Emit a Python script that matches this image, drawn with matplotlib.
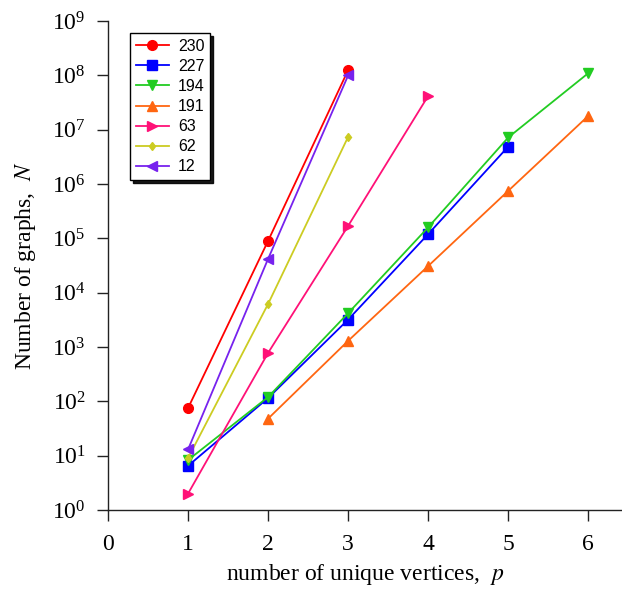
import matplotlib
matplotlib.use("Agg")
import matplotlib.pyplot as plt
from matplotlib.ticker import FixedLocator, NullLocator, LogFormatterMathtext

plt.rcParams['font.family'] = ['Liberation Serif', 'DejaVu Serif']
plt.rcParams['mathtext.fontset'] = 'stix'

labels = ["230", "227", "194", "191", "63", "62", "12"]
x_230 = [1, 2, 3]
y_230 = [75, 9.0e4, 1.25e8]
x_227 = [1, 2, 3, 4, 5]
y_227 = [6.5, 115, 3200, 1.2e5, 4.9e6]
x_194 = [1, 2, 3, 4, 5, 6]
y_194 = [8.3, 120, 4200, 1.6e5, 7.2e6, 1.1e8]
x_191 = [2, 3, 4, 5, 6]
y_191 = [48, 1300, 3.1e4, 7.5e5, 1.8e7]
x_63 = [1, 2, 3, 4]
y_63 = [2, 780, 1.7e5, 4.2e7]
x_62 = [1, 2, 3]
y_62 = [9, 6200, 7.4e6]
x_12 = [1, 2, 3]
y_12 = [13, 4.2e4, 1.0e8]

series = [
    (x_230, y_230, "#ff0000", "o", 7),
    (x_227, y_227, "#0000ff", "s", 7),
    (x_194, y_194, "#22cc22", "v", 7.5),
    (x_191, y_191, "#ff6611", "^", 7.5),
    (x_63, y_63, "#ff1177", ">", 7.5),
    (x_62, y_62, "#cccc22", "d", 4.5),
    (x_12, y_12, "#7722ee", "<", 7.5),
]

fig = plt.figure(figsize=(6.22, 5.90), dpi=100)
ax = fig.add_axes([0.1736, 0.1356, 0.8264, 0.8288])

for lab, (xs, ys, c, m, ms) in zip(labels, series):
    ax.plot(xs, ys, color=c, marker=m, markersize=ms, linewidth=1.3,
            markeredgecolor=c, label=lab)

ax.set_yscale('log')
ax.set_ylim(1, 1e9)
ax.set_xlim(0, 6.42)
ax.yaxis.set_major_locator(FixedLocator([10.0**k for k in range(10)]))
ax.yaxis.set_major_formatter(LogFormatterMathtext())
ax.yaxis.set_minor_locator(NullLocator())
ax.set_xticks(range(7))

for s in ['top', 'right']:
    ax.spines[s].set_visible(False)
for s in ['left', 'bottom']:
    ax.spines[s].set_linewidth(1.0)
    ax.spines[s].set_color('#222222')

ax.tick_params(axis='both', which='major', direction='out', length=8, width=1,
               labelsize=17, color='#222222')
ax.tick_params(axis='y', pad=8)
ax.tick_params(axis='x', pad=9)

ax.set_xlabel("number of unique vertices,  $p$", fontsize=17, labelpad=5)
ax.set_ylabel("Number of graphs,  $N$", fontsize=17, labelpad=10)

leg = ax.legend(loc='upper left', bbox_to_anchor=(0.043, 0.975), borderaxespad=0,
                fancybox=False, edgecolor='black', framealpha=1,
                shadow={'color': 'black', 'alpha': 0.9},
                prop={'family': 'Liberation Sans', 'size': 11.5},
                handlelength=2.1, handletextpad=0.55, labelspacing=0.32,
                borderpad=0.35)
leg.get_frame().set_linewidth(1.0)

fig.savefig("out.png", dpi=100)
